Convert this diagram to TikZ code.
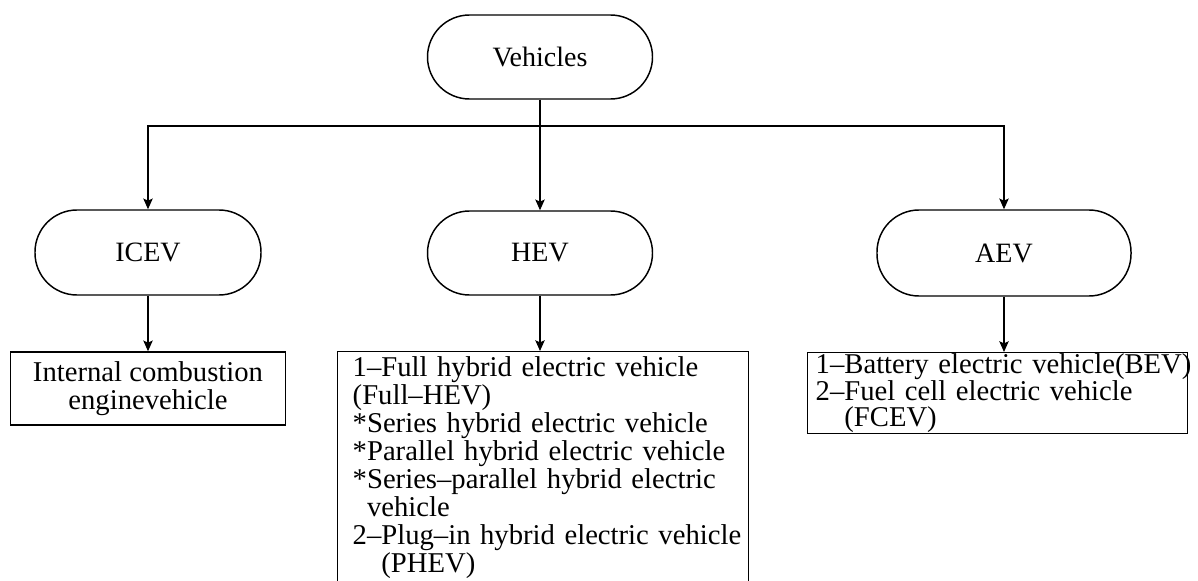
\documentclass[tikz,border=0pt]{standalone}
\usepackage{fontspec}
\setmainfont{Liberation Serif}
\usetikzlibrary{arrows.meta}
\begin{document}
\begin{tikzpicture}[x=0.75pt,y=-0.75pt,
  line width=1.1pt,
  stadium/.style={draw, rounded corners=31.5pt, font=\fontsize{21}{24}\selectfont, inner sep=0pt},
  textbox/.style={draw, inner sep=0pt, font=\fontsize{21.5}{21}\selectfont},
  arr/.style={-{Stealth[length=8pt,width=7pt,inset=1.5pt]}}]
\clip (0,0) rectangle (1198,581);
\fill[white] (0,0) rectangle (1198,581);

\node[stadium, minimum width=168.75pt, minimum height=63pt] (veh) at (540,57) {Vehicles};
\node[stadium, minimum width=169.5pt, minimum height=63.75pt] (icev) at (148,252.5) {ICEV};
\node[stadium, minimum width=168.75pt, minimum height=63pt] (hev) at (540,253) {HEV};
\node[stadium, minimum width=190.5pt, minimum height=64.5pt] (aev) at (1004,253) {AEV};

\node[textbox, minimum width=206.25pt, minimum height=54.75pt, align=center] (icevbox) at (148,388.5)
  {Internal combustion\\enginevehicle};

\node[textbox, anchor=north west, inner xsep=11.25pt, inner ysep=4pt, text width=285.75pt, align=left] (hevbox) at (337,351)
  {\mbox{1–Full hybrid electric vehicle}\\
   \mbox{(Full–HEV)}\\
   \mbox{*Series hybrid electric vehicle}\\
   \mbox{*Parallel hybrid electric vehicle}\\
   \mbox{*Series–parallel hybrid electric}\\
   \mbox{\phantom{*}vehicle}\\
   \mbox{2–Plug–in hybrid electric vehicle}\\
   \mbox{\phantom{2–}(PHEV)}\par\vspace*{10pt}};

\node[textbox, font=\fontsize{21.5}{19.6}\selectfont, anchor=north west, inner xsep=6pt, inner ysep=1pt, text width=273pt, align=left] (aevbox) at (807,352)
  {\mbox{1–Battery electric vehicle(BEV)}\\
   \mbox{2–Fuel cell electric vehicle}\\
   \mbox{\phantom{2–}(FCEV)}};

\coordinate (bus) at (540,126);
\draw (veh.south) -- (bus);
\draw[arr] (bus) -| (icev.north);
\draw[arr] (bus) -- (hev.north);
\draw[arr] (bus) -| (aev.north);

\draw[arr] (icev.south) -- (icevbox.north);
\draw[arr] (hev.south) -- (hev.south |- hevbox.north);
\draw[arr] (aev.south) -- (aev.south |- aevbox.north);
\end{tikzpicture}
\end{document}
